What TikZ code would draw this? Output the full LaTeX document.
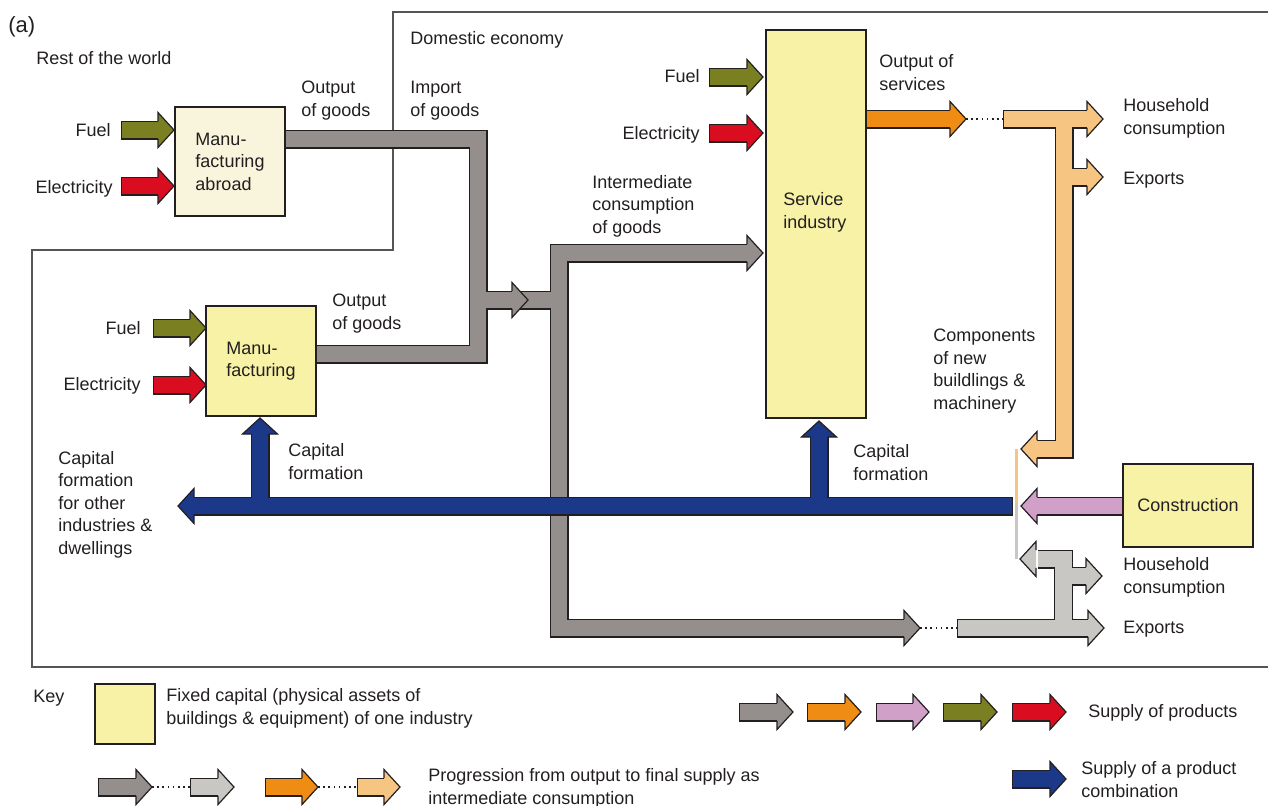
\documentclass[tikz,border=0pt]{standalone}
\usepackage{fontspec}
\setmainfont{Liberation Sans}
\usetikzlibrary{calc}

\definecolor{pipegray}{RGB}{148,143,140}
\definecolor{palegray}{RGB}{200,199,195}
\definecolor{fuelgreen}{RGB}{122,127,34}
\definecolor{elecred}{RGB}{217,13,31}
\definecolor{svcorange}{RGB}{238,140,20}
\definecolor{paleorange}{RGB}{246,197,130}
\definecolor{buildpink}{RGB}{208,160,200}
\definecolor{capblue}{RGB}{28,56,137}
\definecolor{capyellow}{RGB}{247,242,166}
\definecolor{abroadcream}{RGB}{248,245,220}
\definecolor{edgecol}{RGB}{35,31,32}
\definecolor{framecol}{RGB}{85,85,85}

\newcommand{\txtfont}{\fontsize{9}{11.2}\selectfont}

\pgfdeclarelayer{flow}
\pgfsetlayers{flow,main}

\tikzset{
  box/.style={draw=edgecol, line width=0.7pt, fill=capyellow, inner sep=0pt,
    outer sep=0pt, align=left, font=\txtfont, text=edgecol},
  lbl/.style={font=\txtfont, text=edgecol, inner sep=0pt, align=left, anchor=base west},
  lblr/.style={lbl, align=right, anchor=base east},
  pipeedge/.style={draw=edgecol, line width=9.5pt},
  pipe/.style={line width=8.3pt},
  headedge/.style={draw=edgecol, line width=0.6pt},
  dotline/.style={draw=edgecol, line width=0.6pt, dash pattern=on 0.8pt off 1.8pt},
  framebox/.style={draw=framecol, line width=0.9pt},
  seam/.style={line width=1.5pt},
}

% block arrow head: tip, direction, colour
\newcommand{\arrowhead}[3]{%
  \begin{scope}[shift={(#1)}, rotate=#2]
    \fill[#3] (-16,-17.5) -- (0,0) -- (-16,17.5) -- cycle;
    \draw[headedge] (-16,-8.9) -- (-16,-17.5) -- (0,0) -- (-16,17.5) -- (-16,8.9);
  \end{scope}}

% straight block arrow: x tail, x tip, y, colour
\newcommand{\flowarrow}[4]{%
  \draw[pipeedge] (#1,#3) -- (#2-15,#3);
  \draw[pipe, draw=#4, shorten <=0.6pt] (#1,#3) -- (#2-15,#3);
  \arrowhead{#2,#3}{0}{#4}}

\begin{document}
\begin{tikzpicture}[x=0.5pt, y=-0.5pt]
  \useasboundingbox (0,0) rectangle (1268,805);

  %% Industries
  \node[box, fill=abroadcream, anchor=north west, minimum width=55pt, minimum height=54.5pt]
    (abroad) at (175,107) {Manu-\\facturing\\abroad};
  \node[box, anchor=north west, minimum width=55pt, minimum height=55pt]
    (manuf) at (206,306) {Manu-\\facturing};
  \node[box, anchor=north west, minimum width=50pt, minimum height=194pt]
    (svc) at (766,30) {};
  \node[lbl] (svclabel) at (783,228) {Service\\industry};
  \node[box, anchor=north west, minimum width=65pt, minimum height=41.5pt]
    (constr) at (1123,464) {Construction};

  %% Junctions
  \coordinate (impt) at (478,139);
  \coordinate (impb) at (478,354);
  \coordinate (ictop) at (559,253);
  \coordinate (icbot) at (559,628);

  \begin{pgfonlayer}{flow}
    %% Boundaries
    \draw[framebox] (1268,12) -- (393,12) -- (393,250) -- (32,250) -- (32,667) -- (1268,667);

    %% Goods
    \draw[pipeedge] (abroad.east |- impt) -- (impt) -- (impb) -- (manuf.east |- impb);
    \draw[pipeedge] (478,300) -- (559,300);
    \draw[pipeedge] (748,253) -- (ictop) -- (icbot) -- (905,628);
    \draw[pipe, draw=pipegray] (abroad.east |- impt) -- (impt) -- (impb) -- (manuf.east |- impb);
    \draw[pipe, draw=pipegray] (478,300) -- (559,300);
    \draw[pipe, draw=pipegray] (748,253) -- (ictop) -- (icbot) -- (905,628);
    \arrowhead{528,300}{0}{pipegray}
    \arrowhead{763,253}{0}{pipegray}
    \arrowhead{920,628}{0}{pipegray}
    \draw[dotline] (920,628) -- (957,628);

    \draw[pipeedge] (1038,559) -- (1063.5,559) -- (1063.5,628);
    \draw[pipeedge] (957,628) -- (1089,628);
    \draw[pipeedge] (1063.5,576) -- (1088,576);
    \draw[pipe, draw=palegray] (1038,559) -- (1063.5,559) -- (1063.5,628);
    \draw[pipe, draw=palegray, shorten <=0.6pt] (957,628) -- (1089,628);
    \draw[pipe, draw=palegray] (1063.5,576) -- (1088,576);
    \arrowhead{1020,559}{180}{palegray}
    \arrowhead{1102,576}{0}{palegray}
    \arrowhead{1104,628}{0}{palegray}

    %% Services
    \draw[pipeedge] (svc.east |- 0,119) -- (951,119);
    \draw[pipe, draw=svcorange] (svc.east |- 0,119) -- (951,119);
    \arrowhead{966,119}{0}{svcorange}
    \draw[dotline] (966,119) -- (1003,119);

    \draw[pipeedge] (1003,119) -- (1088,119);
    \draw[pipeedge] (1064,119) -- (1064,449) -- (1036,449);
    \draw[pipeedge] (1064,177) -- (1088,177);
    \draw[pipe, draw=paleorange, shorten <=0.6pt] (1003,119) -- (1088,119);
    \draw[pipe, draw=paleorange] (1064,119) -- (1064,449) -- (1036,449);
    \draw[pipe, draw=paleorange] (1064,177) -- (1088,177);
    \arrowhead{1103,119}{0}{paleorange}
    \arrowhead{1103,177}{0}{paleorange}
    \arrowhead{1021,449}{180}{paleorange}

    %% Construction
    \draw[pipeedge] (constr.west |- 0,506) -- (1036,506);
    \draw[pipe, draw=buildpink] (constr.west |- 0,506) -- (1036,506);
    \arrowhead{1021,506}{180}{buildpink}

    \draw[seam, paleorange] (1016,449) -- (1016,503);
    \draw[seam, palegray] (1016,503) -- (1016,559);

    %% Capital formation
    \draw[pipeedge] (1013,506) -- (193,506);
    \draw[pipeedge] (260,506) -- (260,433);
    \draw[pipeedge] (819,506) -- (819,436);
    \draw[pipe, draw=capblue, shorten <=0.6pt] (1013,506) -- (193,506);
    \draw[pipe, draw=capblue] (260,506) -- (260,433);
    \draw[pipe, draw=capblue] (819,506) -- (819,436);
    \arrowhead{178,506}{180}{capblue}
    \arrowhead{260,418}{90}{capblue}
    \arrowhead{819,421}{90}{capblue}

    %% Energy inputs
    \flowarrow{121}{174}{130}{fuelgreen}
    \flowarrow{121}{174}{186}{elecred}
    \flowarrow{153}{206}{328}{fuelgreen}
    \flowarrow{153}{206}{385}{elecred}
    \flowarrow{709}{763}{77}{fuelgreen}
    \flowarrow{709}{763}{133}{elecred}

    %% Key arrows
    \flowarrow{739}{793}{712}{pipegray}
    \flowarrow{807}{861}{712}{svcorange}
    \flowarrow{876}{929}{712}{buildpink}
    \flowarrow{943}{997}{712}{fuelgreen}
    \flowarrow{1012}{1066}{712}{elecred}
    \flowarrow{1012}{1066}{779}{capblue}
    \flowarrow{98}{152}{787}{pipegray}
    \draw[dotline] (152,787) -- (190,787);
    \flowarrow{190}{234}{787}{palegray}
    \flowarrow{265}{318}{787}{svcorange}
    \draw[dotline] (318,787) -- (357,787);
    \flowarrow{357}{400}{787}{paleorange}
  \end{pgfonlayer}

  %% Labels (multi-line ones sit on their last baseline)
  \node[lbl, font=\fontsize{11}{13}\selectfont] (panel) at (8,32) {(a)};
  \node[lbl] (world) at (36,64) {Rest of the world};
  \node[lbl] (domestic) at (410,44) {Domestic economy};
  \node[lbl] (outabroad) at (301,116) {Output\\of goods};
  \node[lbl] (import) at (410,116) {Import\\of goods};
  \node[lblr] (fuelA) at (111,136) {Fuel};
  \node[lblr] (elecA) at (113,193) {Electricity};
  \node[lbl] (outmanuf) at (332,329) {Output\\of goods};
  \node[lblr] (fuelM) at (141,334) {Fuel};
  \node[lblr] (elecM) at (141,390) {Electricity};
  \node[lbl] (capM) at (288,479) {Capital\\formation};
  \node[lbl] (capother) at (58,554) {Capital\\formation\\for other\\industries \&\\dwellings};
  \node[lblr] (fuelS) at (700,82) {Fuel};
  \node[lblr] (elecS) at (700,139) {Electricity};
  \node[lbl] (intermed) at (592,233) {Intermediate\\consumption\\of goods};
  \node[lbl] (outsvc) at (879,90) {Output of\\services};
  \node[lbl] (hhS) at (1123,134) {Household\\consumption};
  \node[lbl] (expS) at (1123,184) {Exports};
  \node[lbl] (components) at (933,409) {Components\\of new\\buildlings \&\\machinery};
  \node[lbl] (capS) at (853,480) {Capital\\formation};
  \node[lbl] (hhG) at (1123,593) {Household\\consumption};
  \node[lbl] (expG) at (1123,633) {Exports};

  %% Key
  \node[lbl] (key) at (33,702) {Key};
  \node[box, anchor=north west, minimum width=30pt, minimum height=30pt] (keybox) at (95,684) {};
  \node[lbl] (keycap) at (166,724) {Fixed capital (physical assets of\\buildings \& equipment) of one industry};
  \node[lbl] (keysupply) at (1088,717) {Supply of products};
  \node[lbl] (keyprog) at (428,804) {Progression from output to final supply as\\intermediate consumption};
  \node[lbl] (keycomb) at (1081,797) {Supply of a product\\combination};
\end{tikzpicture}
\end{document}
